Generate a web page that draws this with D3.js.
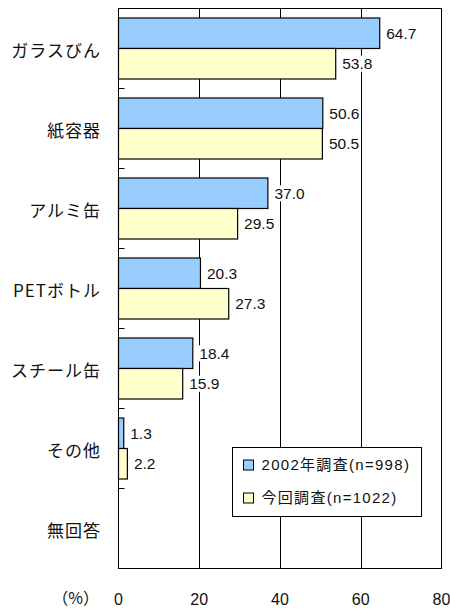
<!DOCTYPE html>
<html><head><meta charset="utf-8">
<script src="https://cdn.jsdelivr.net/npm/d3@7"></script>
<style>body{margin:0;background:#fff}svg{display:block}</style>
</head><body>
<script>
const categories = ["ガラスびん","紙容器","アルミ缶","PETボトル","スチール缶","その他","無回答"];
const series2002 = [64.7, 50.6, 37.0, 20.3, 18.4, 1.3, null];
const seriesNow = [53.8, 50.5, 29.5, 27.3, 15.9, 2.2, null];
const seriesNames = ["2002年調査(n=998)", "今回調査(n=1022)"];
const xTicks = [0, 20, 40, 60, 80];
const colors = ["#99CCFF", "#FFFFCC"];

const W = 450, H = 609;
const L = 118.5, R = 441.5, T = 8.5, B = 568.5;
const svg = d3.select("body").append("svg").attr("width", W).attr("height", H);

const x = d3.scaleLinear().domain([0, 80]).range([L, R]);
const y = d3.scaleBand().domain(categories).range([T, B]).padding(0);
const ys = d3.scaleBand().domain([0, 1]).range([9.5, 70.5]).padding(0);

const numFont = "'Liberation Sans', Arial, 'Noto Sans CJK JP', sans-serif";
const jpFont = "'Noto Sans CJK JP', sans-serif";

svg.append("rect").attr("x", L).attr("y", T).attr("width", R - L).attr("height", B - T)
  .attr("fill", "#fff");

// grid lines
svg.append("g").selectAll("line").data(xTicks.slice(1, -1)).join("line")
  .attr("x1", d => Math.round(x(d)) + 0.5).attr("x2", d => Math.round(x(d)) + 0.5)
  .attr("y1", T).attr("y2", B).attr("stroke", "#000").attr("stroke-width", 1);

// category boundary ticks on left axis
svg.append("g").selectAll("line").data(categories.slice(0, -1)).join("line")
  .attr("x1", L).attr("x2", L + 6)
  .attr("y1", d => y(d) + y.bandwidth()).attr("y2", d => y(d) + y.bandwidth())
  .attr("stroke", "#000").attr("stroke-width", 1);

// bars
const data = [];
categories.forEach((c, i) => {
  [series2002[i], seriesNow[i]].forEach((v, s) => {
    if (v != null) data.push({ c, s, v });
  });
});
svg.append("g").selectAll("rect").data(data).join("rect")
  .attr("x", L)
  .attr("y", d => y(d.c) + ys(d.s))
  .attr("width", d => x(d.v) - L)
  .attr("height", ys.bandwidth())
  .attr("fill", d => colors[d.s])
  .attr("stroke", "#000").attr("stroke-width", 1.2);

// value labels with white background
const lab = svg.append("g").selectAll("g").data(data).join("g")
  .attr("transform", d => `translate(${x(d.v) + 5},${y(d.c) + ys(d.s) + ys.bandwidth() / 2})`);
lab.append("rect").attr("x", 0).attr("y", -8).attr("width", 33).attr("height", 16).attr("fill", "#fff");
lab.append("text").attr("x", 1.5).attr("dy", "0.36em")
  .attr("font-family", numFont).attr("font-size", 15.5).attr("fill", "#111")
  .text(d => d.v.toFixed(1));

// plot border
svg.append("rect").attr("x", L).attr("y", T).attr("width", R - L).attr("height", B - T)
  .attr("fill", "none").attr("stroke", "#000").attr("stroke-width", 1);

// category labels
svg.append("g").selectAll("text").data(categories).join("text")
  .attr("x", 101).attr("y", d => y(d) + y.bandwidth() / 2 + 2)
  .attr("dy", "0.36em").attr("text-anchor", "end")
  .attr("font-family", jpFont).attr("font-size", 17).attr("letter-spacing", 1)
  .attr("fill", "#111").text(d => d);

// x tick labels
svg.append("g").selectAll("text").data(xTicks).join("text")
  .attr("x", d => x(d)).attr("y", 599).attr("dy", "0.36em").attr("text-anchor", "middle")
  .attr("font-family", numFont).attr("font-size", 16).attr("fill", "#111")
  .text(d => d);
svg.append("text").attr("x", 99).attr("y", 598).attr("dy", "0.36em").attr("text-anchor", "end")
  .attr("font-family", jpFont).attr("font-size", 16).attr("fill", "#111").text("（%）");

// legend
const lg = svg.append("g");
lg.append("rect").attr("x", 232.5).attr("y", 447.5).attr("width", 189).attr("height", 69)
  .attr("fill", "#fff").attr("stroke", "#000").attr("stroke-width", 1);
const li = lg.selectAll("g.item").data(seriesNames).join("g").attr("class", "item")
  .attr("transform", (d, i) => `translate(243.5,${465 + i * 33})`);
li.append("rect").attr("x", 0).attr("y", -5).attr("width", 10).attr("height", 10)
  .attr("fill", (d, i) => colors[i]).attr("stroke", "#000").attr("stroke-width", 1);
li.append("text").attr("x", 18).attr("dy", "0.36em")
  .attr("font-family", numFont).attr("font-size", 15).attr("letter-spacing", 1.3)
  .attr("fill", "#111").text(d => d);
</script>
</body></html>
